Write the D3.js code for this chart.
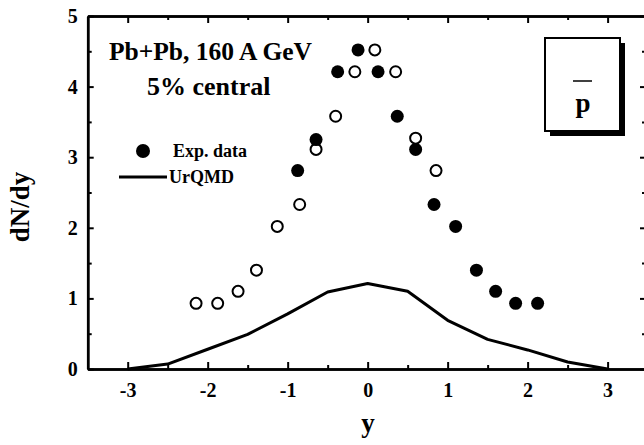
<!DOCTYPE html>
<html>
<head>
<meta charset="utf-8">
<script src="https://cdn.jsdelivr.net/npm/d3@7"></script>
<style>
  body { margin: 0; background: #fff; }
  svg { display: block; }
  text { font-family: "Liberation Serif", "Times New Roman", serif; font-weight: bold; fill: #000; }
</style>
</head>
<body>
<svg id="chart" width="644" height="445"></svg>
<script>
// experimental points (filled)
var expY = [-0.875, -0.645, -0.375, -0.12, 0.13, 0.37, 0.6, 0.83, 1.1, 1.36, 1.6, 1.85, 2.125];
var expV = [2.81, 3.25, 4.21, 4.52, 4.21, 3.58, 3.11, 2.33, 2.02, 1.40, 1.10, 0.93, 0.93];
// reflected points (open)
var reflY = [-2.145, -1.875, -1.62, -1.39, -1.13, -0.85, -0.645, -0.4, -0.16, 0.09, 0.35, 0.6, 0.855];
var reflV = [0.93, 0.93, 1.10, 1.40, 2.02, 2.33, 3.11, 3.58, 4.21, 4.52, 4.21, 3.27, 2.81];
// UrQMD curve
var urqmdY = [-3, -2.5, -2, -1.5, -1, -0.5, 0, 0.5, 1, 1.5, 2, 2.5, 3];
var urqmdV = [0, 0.07, 0.28, 0.49, 0.78, 1.09, 1.21, 1.1, 0.69, 0.42, 0.27, 0.1, 0];

var xMajor = [-3, -2, -1, 0, 1, 2, 3];
var xMinor = [-2.5, -1.5, -0.5, 0.5, 1.5, 2.5];
var yMajor = [0, 1, 2, 3, 4, 5];
var yMinor = [0.5, 1.5, 2.5, 3.5, 4.5];

var margin = { top: 16, left: 87.7 };
var width = 646 - margin.left;
var height = 369 - margin.top;

var svg = d3.select("#chart");
var g = svg.append("g")
    .attr("transform", "translate(" + margin.left + "," + margin.top + ")");

var x = d3.scaleLinear().domain([-3.5, 3.48]).range([0, width]);
var y = d3.scaleLinear().domain([0, 5]).range([height, 0]);

var plain = function (d) { return String(d); };

function styleAxis(sel) {
    sel.select(".domain").attr("stroke-width", 2.5);
    sel.selectAll(".tick line").attr("stroke-width", 2);
    sel.selectAll("text").attr("font-size", 20).attr("font-family", "Liberation Serif, serif").attr("font-weight", "bold");
}

// bottom
g.append("g").attr("transform", "translate(0," + height + ")")
    .call(d3.axisBottom(x).tickValues(xMajor).tickSize(-7).tickSizeOuter(0).tickPadding(14).tickFormat(plain))
    .call(styleAxis);
g.append("g").attr("transform", "translate(0," + height + ")")
    .call(d3.axisBottom(x).tickValues(xMinor).tickSize(-4).tickSizeOuter(0).tickFormat(""))
    .call(styleAxis);
// top
g.append("g")
    .call(d3.axisTop(x).tickValues(xMajor).tickSize(-7).tickSizeOuter(0).tickFormat(""))
    .call(styleAxis);
g.append("g")
    .call(d3.axisTop(x).tickValues(xMinor).tickSize(-4).tickSizeOuter(0).tickFormat(""))
    .call(styleAxis);
// left
g.append("g")
    .call(d3.axisLeft(y).tickValues(yMajor).tickSize(-6).tickSizeOuter(0).tickPadding(10).tickFormat(plain))
    .call(styleAxis);
g.append("g")
    .call(d3.axisLeft(y).tickValues(yMinor).tickSize(-4).tickSizeOuter(0).tickFormat(""))
    .call(styleAxis);
// right
g.append("g").attr("transform", "translate(" + width + ",0)")
    .call(d3.axisRight(y).tickValues(yMajor).tickSize(-6).tickSizeOuter(0).tickFormat(""))
    .call(styleAxis);
g.append("g").attr("transform", "translate(" + width + ",0)")
    .call(d3.axisRight(y).tickValues(yMinor).tickSize(-4).tickSizeOuter(0).tickFormat(""))
    .call(styleAxis);

// UrQMD line
var line = d3.line()
    .x(function (d, i) { return x(urqmdY[i]); })
    .y(function (d) { return y(d); });
g.append("path")
    .datum(urqmdV)
    .attr("d", line)
    .attr("fill", "none")
    .attr("stroke", "#000")
    .attr("stroke-width", 3)
    .attr("stroke-linejoin", "round");

// open circles
g.selectAll(".open")
    .data(reflV)
    .enter()
    .append("circle")
    .attr("class", "open")
    .attr("cx", function (d, i) { return x(reflY[i]); })
    .attr("cy", function (d) { return y(d); })
    .attr("r", 5.5)
    .attr("fill", "#fff")
    .attr("stroke", "#000")
    .attr("stroke-width", 2);

// filled circles
g.selectAll(".filled")
    .data(expV)
    .enter()
    .append("circle")
    .attr("class", "filled")
    .attr("cx", function (d, i) { return x(expY[i]); })
    .attr("cy", function (d) { return y(d); })
    .attr("r", 6.5)
    .attr("fill", "#000");

// titles
svg.append("text").attr("x", 109).attr("y", 60).attr("font-size", 25.5).text("Pb+Pb, 160 A GeV");
svg.append("text").attr("x", 147).attr("y", 95).attr("font-size", 26).text("5% central");

// legend
svg.append("circle").attr("cx", 143).attr("cy", 151).attr("r", 7).attr("fill", "#000");
svg.append("text").attr("x", 173).attr("y", 157).attr("font-size", 18).text("Exp. data");
svg.append("line").attr("x1", 119).attr("x2", 167).attr("y1", 177).attr("y2", 177)
    .attr("stroke", "#000").attr("stroke-width", 3);
svg.append("text").attr("x", 169).attr("y", 183).attr("font-size", 18).text("UrQMD");

// particle box
svg.append("rect").attr("x", 550).attr("y", 43).attr("width", 75).attr("height", 93).attr("fill", "#000");
svg.append("rect").attr("x", 545).attr("y", 38).attr("width", 75).attr("height", 93)
    .attr("fill", "#fff").attr("stroke", "#000").attr("stroke-width", 2);
svg.append("text").attr("x", 583).attr("y", 112).attr("font-size", 27).attr("text-anchor", "middle").text("p");
svg.append("line").attr("x1", 573).attr("x2", 592).attr("y1", 81).attr("y2", 81)
    .attr("stroke", "#000").attr("stroke-width", 1.5);

// axis titles
svg.append("text").attr("x", 368).attr("y", 432).attr("font-size", 27).attr("text-anchor", "middle").text("y");
svg.append("text")
    .attr("transform", "translate(29,207) rotate(-90)")
    .attr("font-size", 27).attr("text-anchor", "middle").text("dN/dy");
</script>
</body>
</html>
